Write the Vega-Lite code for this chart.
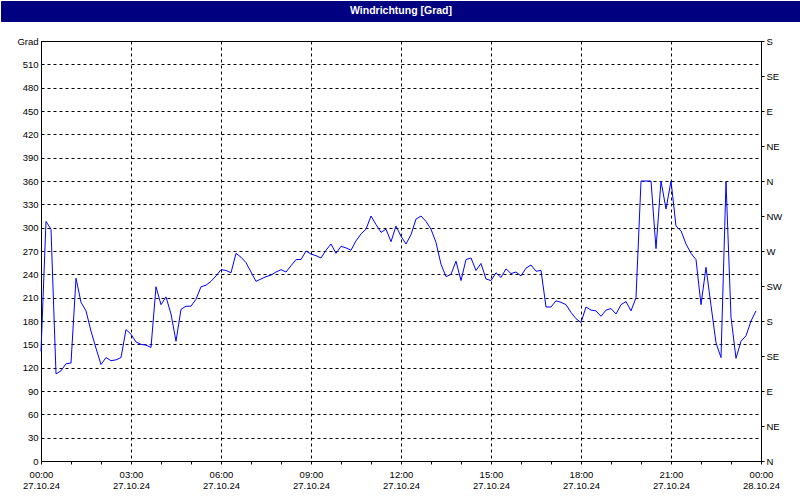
{
  "$schema": "https://vega.github.io/schema/vega-lite/v6.json",
  "background": "white",
  "padding": 0,
  "spacing": 20,
  "bounds": "flush",
  "center": true,
  "config": {
    "view": {"stroke": "black", "strokeWidth": 1},
    "axis": {"labelFont": "Liberation Sans", "labelFontSize": 9.5, "labelColor": "black"}
  },
  "vconcat": [
    {
      "width": 800,
      "height": 20,
      "view": {"fill": "#000080", "stroke": "#000080"},
      "data": {"values": [{"label": "Windrichtung [Grad]"}]},
      "mark": {"type": "text", "color": "white", "font": "Liberation Sans", "fontWeight": "bold", "fontSize": 10.5, "baseline": "middle", "align": "center"},
      "encoding": {"text": {"field": "label"}}
    },
    {
      "width": 720,
      "height": 420,
      "data": {"values": [
        {"t":"2024-10-27T00:00:00Z","v":141},{"t":"2024-10-27T00:10:00Z","v":308},{"t":"2024-10-27T00:20:00Z","v":298},{"t":"2024-10-27T00:30:00Z","v":112},
        {"t":"2024-10-27T00:40:00Z","v":116},{"t":"2024-10-27T00:50:00Z","v":125},{"t":"2024-10-27T01:00:00Z","v":126},{"t":"2024-10-27T01:10:00Z","v":235},
        {"t":"2024-10-27T01:20:00Z","v":204},{"t":"2024-10-27T01:30:00Z","v":193},{"t":"2024-10-27T01:40:00Z","v":167},{"t":"2024-10-27T01:50:00Z","v":145},
        {"t":"2024-10-27T02:00:00Z","v":124},{"t":"2024-10-27T02:10:00Z","v":133},{"t":"2024-10-27T02:20:00Z","v":129},{"t":"2024-10-27T02:30:00Z","v":130},
        {"t":"2024-10-27T02:40:00Z","v":133},{"t":"2024-10-27T02:50:00Z","v":169},{"t":"2024-10-27T03:00:00Z","v":163},{"t":"2024-10-27T03:10:00Z","v":153},
        {"t":"2024-10-27T03:20:00Z","v":150},{"t":"2024-10-27T03:30:00Z","v":149},{"t":"2024-10-27T03:40:00Z","v":146},{"t":"2024-10-27T03:50:00Z","v":224},
        {"t":"2024-10-27T04:00:00Z","v":201},{"t":"2024-10-27T04:10:00Z","v":211},{"t":"2024-10-27T04:20:00Z","v":189},{"t":"2024-10-27T04:30:00Z","v":154},
        {"t":"2024-10-27T04:40:00Z","v":195},{"t":"2024-10-27T04:50:00Z","v":199},{"t":"2024-10-27T05:00:00Z","v":199},{"t":"2024-10-27T05:10:00Z","v":208},
        {"t":"2024-10-27T05:20:00Z","v":224},{"t":"2024-10-27T05:30:00Z","v":226},{"t":"2024-10-27T05:40:00Z","v":231},{"t":"2024-10-27T05:50:00Z","v":238},
        {"t":"2024-10-27T06:00:00Z","v":246},{"t":"2024-10-27T06:10:00Z","v":245},{"t":"2024-10-27T06:20:00Z","v":242},{"t":"2024-10-27T06:30:00Z","v":267},
        {"t":"2024-10-27T06:40:00Z","v":262},{"t":"2024-10-27T06:50:00Z","v":255},{"t":"2024-10-27T07:00:00Z","v":243},{"t":"2024-10-27T07:10:00Z","v":231},
        {"t":"2024-10-27T07:20:00Z","v":234},{"t":"2024-10-27T07:30:00Z","v":237},{"t":"2024-10-27T07:40:00Z","v":239},{"t":"2024-10-27T07:50:00Z","v":243},
        {"t":"2024-10-27T08:00:00Z","v":246},{"t":"2024-10-27T08:10:00Z","v":243},{"t":"2024-10-27T08:20:00Z","v":251},{"t":"2024-10-27T08:30:00Z","v":259},
        {"t":"2024-10-27T08:40:00Z","v":259},{"t":"2024-10-27T08:50:00Z","v":270},{"t":"2024-10-27T09:00:00Z","v":266},{"t":"2024-10-27T09:10:00Z","v":264},
        {"t":"2024-10-27T09:20:00Z","v":261},{"t":"2024-10-27T09:30:00Z","v":271},{"t":"2024-10-27T09:40:00Z","v":279},{"t":"2024-10-27T09:50:00Z","v":267},
        {"t":"2024-10-27T10:00:00Z","v":276},{"t":"2024-10-27T10:10:00Z","v":274},{"t":"2024-10-27T10:20:00Z","v":271},{"t":"2024-10-27T10:30:00Z","v":283},
        {"t":"2024-10-27T10:40:00Z","v":292},{"t":"2024-10-27T10:50:00Z","v":298},{"t":"2024-10-27T11:00:00Z","v":315},{"t":"2024-10-27T11:10:00Z","v":304},
        {"t":"2024-10-27T11:20:00Z","v":294},{"t":"2024-10-27T11:30:00Z","v":298},{"t":"2024-10-27T11:40:00Z","v":282},{"t":"2024-10-27T11:50:00Z","v":302},
        {"t":"2024-10-27T12:00:00Z","v":289},{"t":"2024-10-27T12:10:00Z","v":279},{"t":"2024-10-27T12:20:00Z","v":291},{"t":"2024-10-27T12:30:00Z","v":311},
        {"t":"2024-10-27T12:40:00Z","v":315},{"t":"2024-10-27T12:50:00Z","v":308},{"t":"2024-10-27T13:00:00Z","v":298},{"t":"2024-10-27T13:10:00Z","v":281},
        {"t":"2024-10-27T13:20:00Z","v":253},{"t":"2024-10-27T13:30:00Z","v":237},{"t":"2024-10-27T13:40:00Z","v":240},{"t":"2024-10-27T13:50:00Z","v":257},
        {"t":"2024-10-27T14:00:00Z","v":232},{"t":"2024-10-27T14:10:00Z","v":259},{"t":"2024-10-27T14:20:00Z","v":261},{"t":"2024-10-27T14:30:00Z","v":245},
        {"t":"2024-10-27T14:40:00Z","v":254},{"t":"2024-10-27T14:50:00Z","v":234},{"t":"2024-10-27T15:00:00Z","v":232},{"t":"2024-10-27T15:10:00Z","v":242},
        {"t":"2024-10-27T15:20:00Z","v":236},{"t":"2024-10-27T15:30:00Z","v":247},{"t":"2024-10-27T15:40:00Z","v":241},{"t":"2024-10-27T15:50:00Z","v":243},
        {"t":"2024-10-27T16:00:00Z","v":238},{"t":"2024-10-27T16:10:00Z","v":248},{"t":"2024-10-27T16:20:00Z","v":252},{"t":"2024-10-27T16:30:00Z","v":244},
        {"t":"2024-10-27T16:40:00Z","v":245},{"t":"2024-10-27T16:50:00Z","v":198},{"t":"2024-10-27T17:00:00Z","v":198},{"t":"2024-10-27T17:10:00Z","v":206},
        {"t":"2024-10-27T17:20:00Z","v":204},{"t":"2024-10-27T17:30:00Z","v":201},{"t":"2024-10-27T17:40:00Z","v":191},{"t":"2024-10-27T17:50:00Z","v":183},
        {"t":"2024-10-27T18:00:00Z","v":178},{"t":"2024-10-27T18:10:00Z","v":198},{"t":"2024-10-27T18:20:00Z","v":194},{"t":"2024-10-27T18:30:00Z","v":193},
        {"t":"2024-10-27T18:40:00Z","v":186},{"t":"2024-10-27T18:50:00Z","v":194},{"t":"2024-10-27T19:00:00Z","v":196},{"t":"2024-10-27T19:10:00Z","v":189},
        {"t":"2024-10-27T19:20:00Z","v":201},{"t":"2024-10-27T19:30:00Z","v":205},{"t":"2024-10-27T19:40:00Z","v":193},{"t":"2024-10-27T19:50:00Z","v":210},
        {"t":"2024-10-27T20:00:00Z","v":360},{"t":"2024-10-27T20:10:00Z","v":360},{"t":"2024-10-27T20:20:00Z","v":360},{"t":"2024-10-27T20:30:00Z","v":273},
        {"t":"2024-10-27T20:40:00Z","v":360},{"t":"2024-10-27T20:50:00Z","v":324},{"t":"2024-10-27T21:00:00Z","v":360},{"t":"2024-10-27T21:10:00Z","v":302},
        {"t":"2024-10-27T21:20:00Z","v":296},{"t":"2024-10-27T21:30:00Z","v":279},{"t":"2024-10-27T21:40:00Z","v":267},{"t":"2024-10-27T21:50:00Z","v":259},
        {"t":"2024-10-27T22:00:00Z","v":201},{"t":"2024-10-27T22:10:00Z","v":249},{"t":"2024-10-27T22:20:00Z","v":200},{"t":"2024-10-27T22:30:00Z","v":152},
        {"t":"2024-10-27T22:40:00Z","v":133},{"t":"2024-10-27T22:50:00Z","v":359},{"t":"2024-10-27T23:00:00Z","v":185},{"t":"2024-10-27T23:10:00Z","v":132},
        {"t":"2024-10-27T23:20:00Z","v":154},{"t":"2024-10-27T23:30:00Z","v":161},{"t":"2024-10-27T23:40:00Z","v":180},{"t":"2024-10-27T23:50:00Z","v":193}
      ]},
      "layer": [
        {
          "mark": {"type": "line", "color": "#0000ff", "strokeWidth": 1},
          "encoding": {
            "x": {
              "field": "t", "type": "temporal",
              "scale": {"type": "utc", "domain": ["2024-10-27T00:00:00Z", "2024-10-28T00:00:00Z"], "nice": false},
              "axis": {
                "title": null,
                "tickCount": 24,
                "labelExpr": "utchours(datum.value) % 3 == 0 ? [utcFormat(datum.value, '%H:%M'), utcFormat(datum.value, '%d.%m.%y')] : ''",
                "gridOpacity": {"condition": {"test": "utchours(datum.value) % 3 == 0", "value": 1}, "value": 0},
                "grid": true,
                "gridDash": [3, 3],
                "gridColor": "black",
                "tickSize": 3,
                "tickColor": "black",
                "domainColor": "black",
                "labelPadding": 5,
                "labelOverlap": false,
                "labelFlush": false
              }
            },
            "y": {
              "field": "v", "type": "quantitative",
              "scale": {"domain": [0, 540], "nice": false},
              "axis": {
                "title": null,
                "orient": "left",
                "values": [0,30,60,90,120,150,180,210,240,270,300,330,360,390,420,450,480,510,540],
                "labelExpr": "datum.value == 540 ? 'Grad' : datum.label",
                "ticks": false,
                "labelPadding": 3,
                "gridDash": [3, 3],
                "gridColor": "black",
                "domainColor": "black",
                "labelOverlap": false
              }
            }
          }
        },
        {
          "mark": {"type": "line", "opacity": 0},
          "encoding": {
            "x": {"field": "t", "type": "temporal"},
            "y": {
              "field": "v", "type": "quantitative",
              "scale": {"domain": [0, 540], "nice": false},
              "axis": {
                "title": null,
                "orient": "right",
                "values": [0,45,90,135,180,225,270,315,360,405,450,495,540],
                "labelExpr": "['N','NE','E','SE','S','SW','W','NW','N','NE','E','SE','S'][round(datum.value / 45)]",
                "grid": false,
                "tickSize": 3,
                "tickColor": "black",
                "labelPadding": 2,
                "domainColor": "black",
                "labelOverlap": false
              }
            }
          }
        }
      ],
      "resolve": {"scale": {"y": "independent"}}
    }
  ]
}
